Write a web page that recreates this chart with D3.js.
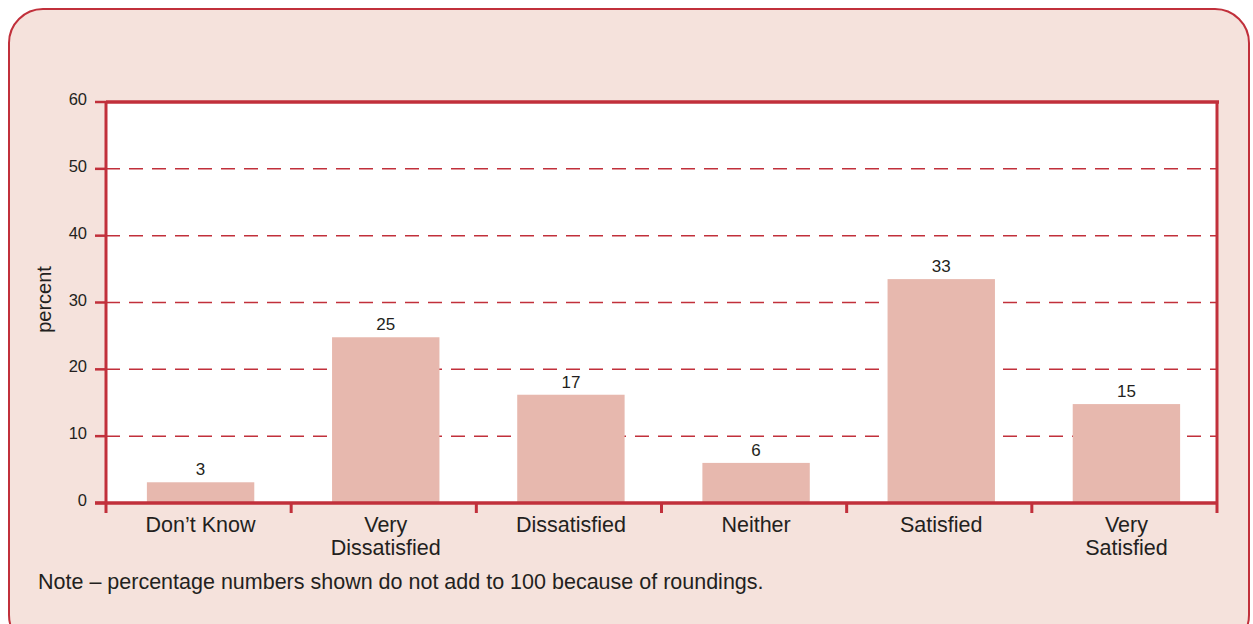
<!DOCTYPE html>
<html>
<head>
<meta charset="utf-8">
<script src="https://cdn.jsdelivr.net/npm/d3@7"></script>
<style>
  body { margin: 0; background: #fff; }
  svg { display: block; font-family: "Liberation Sans", Arial, sans-serif; }
</style>
</head>
<body>
<svg id="chart" width="1253" height="624"></svg>
<script>
// data
const categories = ['Don\u2019t Know', 'Very|Dissatisfied', 'Dissatisfied', 'Neither', 'Satisfied', 'Very|Satisfied'];
const labels = [3, 25, 17, 6, 33, 15];
const heights = [3.1, 24.8, 16.2, 6.0, 33.5, 14.8];
const yTicks = [0, 10, 20, 30, 40, 50, 60];
const note = 'Note \u2013 percentage numbers shown do not add to 100 because of roundings.';

const red = '#c1303b';
const ink = '#231f20';

const svg = d3.select('#chart');

svg.append('rect')
  .attr('x', 9).attr('y', 9)
  .attr('width', 1240).attr('height', 640)
  .attr('rx', 34)
  .attr('fill', '#f5e2dc')
  .attr('stroke', red)
  .attr('stroke-width', 2);

const m = { left: 106, right: 1217, top: 102, bottom: 503 };

const x = d3.scaleBand().domain(categories).range([m.left, m.right]).paddingInner(0.42).paddingOuter(0.21);
const band = d3.scaleBand().domain(categories).range([m.left, m.right]);
const y = d3.scaleLinear().domain([0, 60]).range([m.bottom, m.top]);

svg.append('rect')
  .attr('x', m.left).attr('y', m.top)
  .attr('width', m.right - m.left).attr('height', m.bottom - m.top)
  .attr('fill', '#fff');

// dashed gridlines
svg.append('g')
  .selectAll('line')
  .data(yTicks.filter(d => d > 0 && d < 60))
  .join('line')
  .attr('x1', m.left).attr('x2', m.right)
  .attr('y1', d => y(d)).attr('y2', d => y(d))
  .attr('stroke', red)
  .attr('stroke-width', 1.5)
  .attr('stroke-dasharray', '14 9');

// bars
svg.append('g')
  .selectAll('rect')
  .data(categories)
  .join('rect')
  .attr('x', d => x(d) + 2)
  .attr('width', x.bandwidth())
  .attr('y', (d, i) => y(heights[i]))
  .attr('height', (d, i) => y(0) - y(heights[i]))
  .attr('fill', '#e7b8ae');

// value labels
svg.append('g')
  .selectAll('text')
  .data(categories)
  .join('text')
  .attr('x', d => x(d) + 2 + x.bandwidth() / 2)
  .attr('y', (d, i) => y(heights[i]) - 7)
  .attr('text-anchor', 'middle')
  .attr('font-size', 17)
  .attr('fill', ink)
  .text((d, i) => labels[i]);

// y axis ticks + labels
const yAxis = svg.append('g');
yAxis.selectAll('line')
  .data(yTicks)
  .join('line')
  .attr('x1', 95).attr('x2', m.left)
  .attr('y1', d => y(d)).attr('y2', d => y(d))
  .attr('stroke', red)
  .attr('stroke-width', 2.5);
yAxis.selectAll('text')
  .data(yTicks)
  .join('text')
  .attr('x', 87)
  .attr('y', d => y(d) + 3)
  .attr('text-anchor', 'end')
  .attr('font-size', 16.5)
  .attr('fill', ink)
  .text(d => d);

svg.append('text')
  .attr('transform', `translate(51,${(m.top + m.bottom) / 2 - 3}) rotate(-90)`)
  .attr('text-anchor', 'middle')
  .attr('font-size', 20)
  .attr('fill', ink)
  .text('percent');

// frame
svg.append('line').attr('x1', m.left).attr('x2', m.right + 2).attr('y1', m.top).attr('y2', m.top)
  .attr('stroke', red).attr('stroke-width', 3.5);
svg.append('line').attr('x1', m.left).attr('x2', m.left).attr('y1', m.top).attr('y2', m.bottom + 10)
  .attr('stroke', red).attr('stroke-width', 3);
svg.append('line').attr('x1', m.right).attr('x2', m.right).attr('y1', m.top).attr('y2', m.bottom + 10)
  .attr('stroke', red).attr('stroke-width', 3);
svg.append('line').attr('x1', 95).attr('x2', m.right).attr('y1', m.bottom).attr('y2', m.bottom)
  .attr('stroke', red).attr('stroke-width', 3.5);

// category ticks
svg.append('g')
  .selectAll('line')
  .data(categories.slice(1))
  .join('line')
  .attr('x1', d => band(d)).attr('x2', d => band(d))
  .attr('y1', m.bottom).attr('y2', m.bottom + 10)
  .attr('stroke', red)
  .attr('stroke-width', 3);

// category labels
svg.append('g')
  .selectAll('text')
  .data(categories)
  .join('text')
  .attr('x', d => band(d) + band.bandwidth() / 2 + 2)
  .attr('y', 532)
  .attr('text-anchor', 'middle')
  .attr('font-size', 21.5)
  .attr('fill', ink)
  .each(function(d) {
    const lines = d.split('|');
    d3.select(this).selectAll('tspan')
      .data(lines)
      .join('tspan')
      .attr('x', d3.select(this).attr('x'))
      .attr('dy', (l, i) => i ? 23 : 0)
      .text(l => l);
  });

svg.append('text')
  .attr('x', 38).attr('y', 589)
  .attr('font-size', 21.5)
  .attr('fill', ink)
  .text(note);
</script>
</body>
</html>
